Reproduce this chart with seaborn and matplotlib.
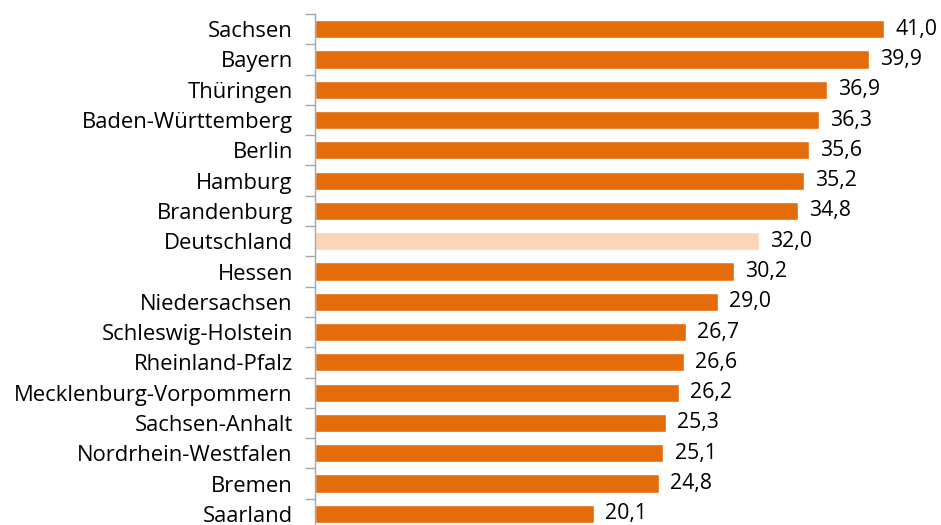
import matplotlib
matplotlib.use("Agg")
import matplotlib.pyplot as plt
import seaborn as sns
import pandas as pd
from matplotlib.ticker import FixedLocator

categories = ["Sachsen", "Bayern", "Thüringen", "Baden-Württemberg", "Berlin", "Hamburg",
              "Brandenburg", "Deutschland", "Hessen", "Niedersachsen", "Schleswig-Holstein",
              "Rheinland-Pfalz", "Mecklenburg-Vorpommern", "Sachsen-Anhalt",
              "Nordrhein-Westfalen", "Bremen", "Saarland"]
values = [41.0, 39.9, 36.9, 36.3, 35.6, 35.2, 34.8, 32.0, 30.2, 29.0, 26.7, 26.6, 26.2,
          25.3, 25.1, 24.8, 20.1]
highlight = "Deutschland"

sns.set_theme(style="white")
plt.rcParams['font.family'] = ['Open Sans', 'DejaVu Sans']

df = pd.DataFrame({"land": categories, "wert": values})
palette = {c: ("#FBD5B5" if c == highlight else "#E46C0A") for c in categories}

fig = plt.figure(figsize=(9.41, 5.25), dpi=100)
ax = fig.add_axes([315/941, 1 - 529/525, 1 - 315/941, 515/525])
sns.barplot(data=df, x="wert", y="land", hue="land", palette=palette, order=categories,
            width=0.6, legend=False, ax=ax, saturation=1)

ax.set_xlim(0, 45.1)
ax.set_ylim(len(categories) - 0.5, -0.5)
ax.set_xlabel("")
ax.set_ylabel("")
ax.set_xticks([])
for s in ["top", "right", "bottom"]:
    ax.spines[s].set_visible(False)
ax.spines["left"].set_color("#A6A6A6")
ax.spines["left"].set_linewidth(1.0)

ax.yaxis.set_minor_locator(FixedLocator([i - 0.5 for i in range(len(categories) + 1)]))
ax.tick_params(axis="y", which="major", length=0, pad=16, labelsize=15.8, labelcolor="#000000")
ax.tick_params(axis="y", which="minor", length=7, width=1.0, color="#A6A6A6", direction="out", left=True)

for cont in ax.containers:
    ax.bar_label(cont, labels=[f"{v:.1f}".replace(".", ",") for v in cont.datavalues],
                 padding=8, fontsize=15.3, color="#000000")

fig.savefig("out.png", dpi=100)
